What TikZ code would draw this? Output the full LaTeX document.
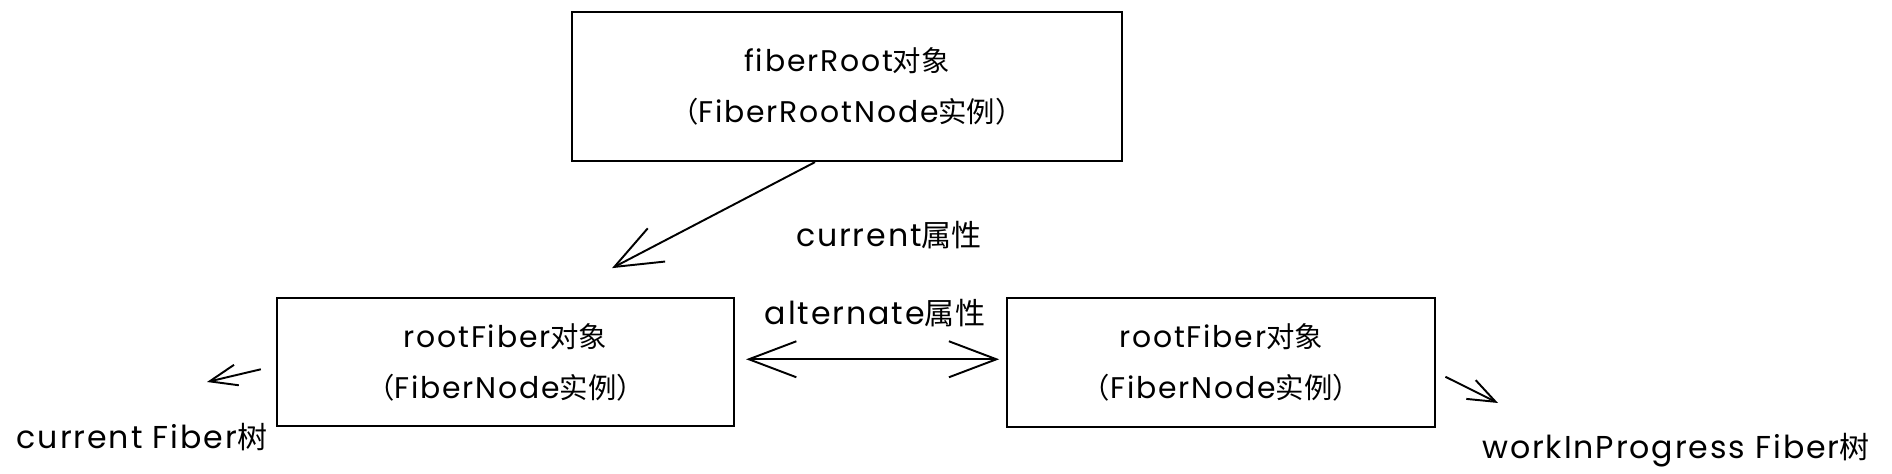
\documentclass[tikz,border=0pt]{standalone}
\usepackage{fontspec}
\setmainfont{Poppins}[LetterSpace=6]
\newfontfamily\cjk{Noto Sans CJK SC}[Scale=0.95]
\usetikzlibrary{positioning,arrows.meta}

\begin{document}
\begin{tikzpicture}[
		box/.style={draw=black,line width=1.3pt,align=center,font=\fontsize{17}{29}\selectfont},
		lbl/.style={font=\fontsize{18}{20}\selectfont},
		arr/.style={-{Straight Barb[length=0.95cm,width=0.75cm]},line width=1.1pt},
		arrsmall/.style={-{Straight Barb[length=0.55cm,width=0.42cm]},line width=1.1pt}
	]
		\useasboundingbox (0,0) rectangle (37.84,9.48);
		
		\node[box, minimum width=11cm, minimum height=2.98cm] (root) at (16.94,7.75) {fiberRoot{\cjk 对象}\\{\cjk （}FiberRootNode{\cjk 实例）}};
		
		\node[box, minimum width=9.14cm, minimum height=2.56cm, below=2.7cm of root,shift={(-6.83,0)}] (cur) {rootFiber{\cjk 对象}\\{\cjk （}FiberNode{\cjk 实例）}};
		\node[box, minimum width=8.56cm, minimum height=2.58cm, right=5.42cm of cur] (wip) {rootFiber{\cjk 对象}\\{\cjk （}FiberNode{\cjk 实例）}};
		
		\node[lbl] (curattr) at (17.78,4.78) {current{\cjk 属性}};
		\node[lbl] (altattr) at (17.5,3.22) {alternate{\cjk 属性}};
		\node[lbl] (curtree) at (2.84,0.74) {current Fiber{\cjk 树}};
		\node[lbl] (wiptree) at (33.52,0.48) {workInProgress Fiber{\cjk 树}};
		
		\coordinate (curtip) at (4.14,1.84);
		\coordinate (wiptip) at (29.96,1.42);
		
		\draw[arr] ([xshift=-0.64cm]root.south)--([xshift=2.13cm,yshift=0.58cm]cur.north);
		\draw[line width=1.1pt,{Straight Barb[length=0.95cm,width=0.72cm]}-{Straight Barb[length=0.95cm,width=0.72cm]},shorten <=0.22cm,shorten >=0.14cm] ([yshift=0.06cm]cur.east)--([yshift=0.06cm]wip.west);
		\draw[arrsmall] ([xshift=-0.3cm,yshift=-0.14cm]cur.west)--(curtip);
		\draw[arrsmall] ([xshift=0.18cm,yshift=-0.29cm]wip.east)--(wiptip);
	\end{tikzpicture}
\end{document}
